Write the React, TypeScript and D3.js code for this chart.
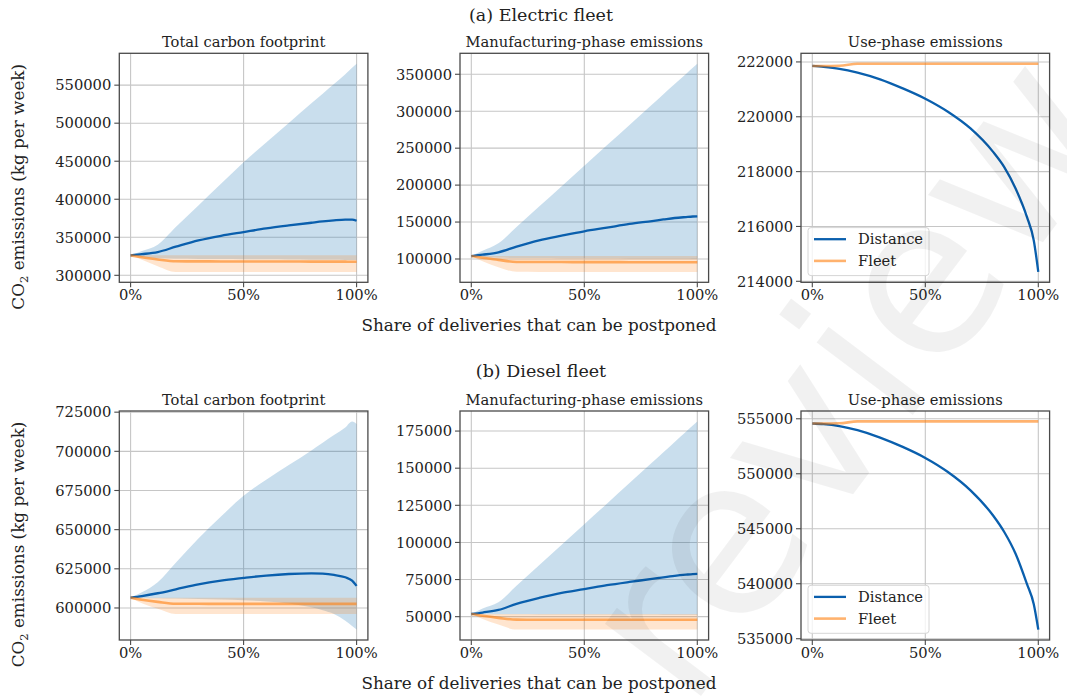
import React from 'react';
import * as d3 from 'd3';

// shared x grid (share of deliveries that can be postponed)
const XS = [0, 0.05, 0.12, 0.2, 0.3, 0.4, 0.5, 0.6, 0.7, 0.8, 0.85, 0.9, 0.95, 0.98, 1];
const X_TICKS = [0, 0.5, 1];
const X_TICK_LABELS = ['0%', '50%', '100%'];

// (a) Electric fleet — total
const elecTotalDist = [326250, 327800, 330600, 337600, 345900, 352000, 356900, 361700, 365600, 369100, 370800, 372200, 373200, 373300, 371700];
const elecTotalDistLo = [326250, 324500, 322500, 321800, 321600, 321400, 321200, 321000, 320800, 320600, 320500, 320400, 320200, 320100, 320000];
const elecTotalDistHi = [326250, 332000, 340200, 363400, 391900, 420300, 448700, 474600, 500300, 526100, 538800, 551500, 564500, 572800, 578200];
const elecTotalFleet = [326250, 323800, 320800, 318400, 318300, 318250, 318200, 318150, 318100, 318050, 318000, 318000, 317950, 317900, 317900];
const elecTotalFleetLo = [326250, 320500, 312000, 304500, 304500, 304500, 304500, 304500, 304500, 304500, 304500, 304500, 304500, 304500, 304500];
const elecTotalFleetHi = [326250, 326250, 326250, 326250, 326250, 326250, 326250, 326250, 326250, 326250, 326250, 326250, 326250, 326250, 326250];
const elecTotalTicks = [300000, 350000, 400000, 450000, 500000, 550000];

// (a) Electric fleet — manufacturing
const elecManuDist = [104000, 105800, 109000, 116700, 125300, 131600, 137500, 142400, 147400, 151400, 153500, 155500, 156800, 157500, 157800];
const elecManuDistLo = [104000, 102800, 101600, 101300, 101200, 101100, 101000, 100900, 100800, 100700, 100650, 100600, 100550, 100500, 100500];
const elecManuDistHi = [104000, 111000, 121200, 143300, 170900, 198600, 226200, 253800, 281400, 309000, 322900, 336700, 350500, 358800, 364300];
const elecManuFleet = [104000, 101800, 98800, 96000, 95900, 95850, 95800, 95750, 95700, 95650, 95600, 95600, 95550, 95500, 95500];
const elecManuFleetLo = [104000, 97000, 89000, 82600, 82550, 82550, 82550, 82550, 82550, 82550, 82550, 82550, 82550, 82550, 82550];
const elecManuFleetHi = [104000, 104000, 104000, 104000, 104000, 104000, 104000, 104000, 104000, 104000, 104000, 104000, 104000, 104000, 104000];
const elecManuTicks = [100000, 150000, 200000, 250000, 300000, 350000];

// (a) Electric fleet — use phase
const elecUseDist = [221853, 221820, 221750, 221610, 221366, 221036, 220658, 220183, 219573, 218720, 218158, 217378, 216341, 215488, 214343];
const elecUseFleet = [221853, 221853, 221860, 221935, 221935, 221935, 221935, 221935, 221935, 221935, 221935, 221935, 221935, 221935, 221935];
const elecUseTicks = [214000, 216000, 218000, 220000, 222000];

// (b) Diesel fleet — total
const dieselTotalDist = [606600, 607600, 609400, 611900, 615100, 617500, 619200, 620700, 621700, 622100, 621900, 621100, 619600, 617500, 614100];
const dieselTotalDistLo = [606600, 606400, 606200, 606000, 605800, 605400, 605000, 604200, 602900, 600400, 598600, 596200, 591900, 588500, 586200];
const dieselTotalDistHi = [606600, 610000, 616500, 628900, 644300, 658400, 671600, 681900, 691200, 700600, 705500, 710400, 715200, 719100, 717500];
const dieselTotalFleet = [606600, 605300, 603900, 602700, 602650, 602600, 602600, 602600, 602600, 602600, 602600, 602600, 602600, 602600, 602600];
const dieselTotalFleetLo = [606600, 603000, 599500, 596200, 596200, 596200, 596200, 596200, 596200, 596200, 596200, 596200, 596200, 596200, 596200];
const dieselTotalFleetHi = [606600, 606600, 606600, 606600, 606600, 606600, 606600, 606600, 606600, 606600, 606600, 606600, 606600, 606600, 606600];
const dieselTotalTicks = [600000, 625000, 650000, 675000, 700000, 725000];

// (b) Diesel fleet — manufacturing
const dieselManuDist = [51800, 52800, 54500, 58600, 62600, 66000, 68500, 71200, 73400, 75400, 76500, 77500, 78300, 78700, 78800];
const dieselManuDistLo = [51800, 51700, 51600, 51550, 51500, 51500, 51450, 51450, 51400, 51400, 51350, 51350, 51300, 51300, 51300];
const dieselManuDistHi = [51800, 55500, 59700, 70770, 84610, 98450, 112300, 126100, 140000, 153800, 160700, 167700, 174600, 178700, 181500];
const dieselManuFleet = [51800, 50600, 49200, 48000, 47950, 47950, 47900, 47900, 47900, 47900, 47900, 47900, 47900, 47900, 47900];
const dieselManuFleetLo = [51800, 48500, 44800, 41300, 41300, 41300, 41300, 41300, 41300, 41300, 41300, 41300, 41300, 41300, 41300];
const dieselManuFleetHi = [51800, 51800, 51800, 51800, 51800, 51800, 51800, 51800, 51800, 51800, 51800, 51800, 51800, 51800, 51800];
const dieselManuTicks = [50000, 75000, 100000, 125000, 150000, 175000];

// (b) Diesel fleet — use phase
const dieselUseDist = [554570, 554520, 554340, 553960, 553290, 552440, 551440, 550160, 548490, 546200, 544680, 542700, 539960, 538140, 535830];
const dieselUseFleet = [554570, 554570, 554590, 554760, 554760, 554760, 554760, 554760, 554760, 554760, 554760, 554760, 554760, 554760, 554760];
const dieselUseTicks = [535000, 540000, 545000, 550000, 555000];

const ROW_TITLES = ['(a) Electric fleet', '(b) Diesel fleet'];
const PANEL_TITLES = ['Total carbon footprint', 'Manufacturing-phase emissions', 'Use-phase emissions'];
const SERIES_NAMES = ['Distance', 'Fleet'];
const X_LABEL = 'Share of deliveries that can be postponed';
const WATERMARK = 'review';

const FONT = "'DejaVu Serif', serif";
const BLUE = '#0a5fad';
const BLUE_FILL = '#1f77b4';
const ORANGE = '#ff7f0e';
const GRID = '#c6c6c6';
const SPINE = '#4a4a4a';
const TEXT = '#222';

type PanelProps = {
  left: number; top: number; w: number; h: number; title: string;
  dist: number[]; distLo?: number[]; distHi?: number[];
  fleet: number[]; fleetLo?: number[]; fleetHi?: number[];
  yTicks: number[]; legend?: boolean;
};

function Panel(p: PanelProps) {
  const all = [...p.dist, ...p.fleet, ...(p.distLo || []), ...(p.distHi || []), ...(p.fleetLo || []), ...(p.fleetHi || [])];
  const [mn, mx] = d3.extent(all) as [number, number];
  const pad = (mx - mn) * 0.05;
  const y = d3.scaleLinear().domain([mn - pad, mx + pad]).range([p.top + p.h, p.top]);
  const x = d3.scaleLinear().domain([-0.05, 1.05]).range([p.left, p.left + p.w]);
  const line = d3.line<number>().x((_, i) => x(XS[i])).y((d) => y(d)).curve(d3.curveMonotoneX);
  const area = (lo: number[], hi: number[]) =>
    d3.area<number>().x((_, i) => x(XS[i])).y0((_, i) => y(lo[i])).y1((_, i) => y(hi[i])).curve(d3.curveMonotoneX)(lo) || '';
  const bottom = p.top + p.h;
  const clipId = `clip-${Math.round(p.left)}-${Math.round(p.top)}`;
  const lgX = p.left + 7;
  const lgY = bottom - 6.7 - 48;
  return (
    <g>
      <defs>
        <clipPath id={clipId}><rect x={p.left} y={p.top} width={p.w} height={p.h} /></clipPath>
      </defs>
      {X_TICKS.map((t) => (
        <line key={'gx' + t} x1={x(t)} x2={x(t)} y1={p.top} y2={bottom} stroke={GRID} strokeWidth={1.1} />
      ))}
      {p.yTicks.map((t) => (
        <line key={'gy' + t} x1={p.left} x2={p.left + p.w} y1={y(t)} y2={y(t)} stroke={GRID} strokeWidth={1.1} />
      ))}
      <g clipPath={`url(#${clipId})`}>
        {p.distLo && p.distHi && <path d={area(p.distLo, p.distHi)} fill={BLUE_FILL} fillOpacity={0.24} />}
        {p.fleetLo && p.fleetHi && <path d={area(p.fleetLo, p.fleetHi)} fill={ORANGE} fillOpacity={0.2} />}
        <path d={line(p.dist) || ''} fill="none" stroke={BLUE} strokeWidth={2.3} />
        <path d={line(p.fleet) || ''} fill="none" stroke={ORANGE} strokeOpacity={0.6} strokeWidth={2.6} />
      </g>
      <rect x={p.left} y={p.top} width={p.w} height={p.h} fill="none" stroke={SPINE} strokeWidth={1.3} />
      {p.yTicks.map((t) => (
        <g key={'yt' + t}>
          <line x1={p.left - 5} x2={p.left} y1={y(t)} y2={y(t)} stroke={SPINE} strokeWidth={1.1} />
          <text x={p.left - 8} y={y(t)} dy="0.36em" textAnchor="end" fontFamily={FONT} fontSize={14.7} fill={TEXT}>
            {String(t)}
          </text>
        </g>
      ))}
      {X_TICKS.map((t, i) => (
        <g key={'xt' + t}>
          <line x1={x(t)} x2={x(t)} y1={bottom} y2={bottom + 5} stroke={SPINE} strokeWidth={1.1} />
          <text x={x(t)} y={bottom + 18} textAnchor="middle" fontFamily={FONT} fontSize={14.7} fill={TEXT}>
            {X_TICK_LABELS[i]}
          </text>
        </g>
      ))}
      <text x={p.left + p.w / 2} y={p.top - 6.5} textAnchor="middle" fontFamily={FONT} fontSize={14.7} fill={TEXT}>
        {p.title}
      </text>
      {p.legend && (
        <g>
          <rect x={lgX} y={lgY} width={121} height={48} rx={3} fill="#fff" fillOpacity={0.8} stroke="#d6d6d6" strokeWidth={1} />
          <line x1={lgX + 6} x2={lgX + 38} y1={lgY + 11.6} y2={lgY + 11.6} stroke={BLUE} strokeWidth={2.3} />
          <text x={lgX + 50} y={lgY + 11.6} dy="0.36em" fontFamily={FONT} fontSize={14.7} fill={TEXT}>{SERIES_NAMES[0]}</text>
          <line x1={lgX + 6} x2={lgX + 38} y1={lgY + 33.3} y2={lgY + 33.3} stroke={ORANGE} strokeOpacity={0.6} strokeWidth={2.6} />
          <text x={lgX + 50} y={lgY + 33.3} dy="0.36em" fontFamily={FONT} fontSize={14.7} fill={TEXT}>{SERIES_NAMES[1]}</text>
        </g>
      )}
    </g>
  );
}

const COLS = [119.3, 460, 801];
const COL_W = 248.6;
const ROWS = [53.3, 411];
const ROW_H = 229;

export default function App() {
  const rows = [
    [
      { dist: elecTotalDist, distLo: elecTotalDistLo, distHi: elecTotalDistHi, fleet: elecTotalFleet, fleetLo: elecTotalFleetLo, fleetHi: elecTotalFleetHi, yTicks: elecTotalTicks },
      { dist: elecManuDist, distLo: elecManuDistLo, distHi: elecManuDistHi, fleet: elecManuFleet, fleetLo: elecManuFleetLo, fleetHi: elecManuFleetHi, yTicks: elecManuTicks },
      { dist: elecUseDist, fleet: elecUseFleet, yTicks: elecUseTicks, legend: true },
    ],
    [
      { dist: dieselTotalDist, distLo: dieselTotalDistLo, distHi: dieselTotalDistHi, fleet: dieselTotalFleet, fleetLo: dieselTotalFleetLo, fleetHi: dieselTotalFleetHi, yTicks: dieselTotalTicks },
      { dist: dieselManuDist, distLo: dieselManuDistLo, distHi: dieselManuDistHi, fleet: dieselManuFleet, fleetLo: dieselManuFleetLo, fleetHi: dieselManuFleetHi, yTicks: dieselManuTicks },
      { dist: dieselUseDist, fleet: dieselUseFleet, yTicks: dieselUseTicks, legend: true },
    ],
  ];
  return (
    <svg width={1067} height={698} style={{ position: 'absolute', left: 0, top: 0, background: '#fff' }}>
      <rect x={0} y={0} width={1067} height={698} fill="#fff" />
      {rows.map((row, ri) => (
        <g key={ri}>
          <text x={541} y={ri === 0 ? 21 : 377} textAnchor="middle" fontFamily={FONT} fontSize={17.5} fill={TEXT}>
            {ROW_TITLES[ri]}
          </text>
          {row.map((spec, ci) => (
            <Panel key={ci} left={COLS[ci]} top={ROWS[ri]} w={COL_W} h={ROW_H} title={PANEL_TITLES[ci]} {...spec} />
          ))}
          <text x={539} y={ROWS[ri] + ROW_H + 49} textAnchor="middle" fontFamily={FONT} fontSize={16.8} fill={TEXT}>
            {X_LABEL}
          </text>
          <text transform={`translate(24,${ROWS[ri] + ROW_H / 2 + 19}) rotate(-90)`} textAnchor="middle" fontFamily={FONT} fontSize={16.8} fill={TEXT}>
            CO<tspan dy="4" fontSize={11.5}>2</tspan><tspan dy="-4"> emissions (kg per week)</tspan>
          </text>
        </g>
      ))}
      <text transform="translate(689,712) rotate(-53)" fontFamily="'DejaVu Sans', sans-serif" fontSize={220} fill="#000" fillOpacity={0.055} pointerEvents="none">
        {WATERMARK}
      </text>
    </svg>
  );
}
